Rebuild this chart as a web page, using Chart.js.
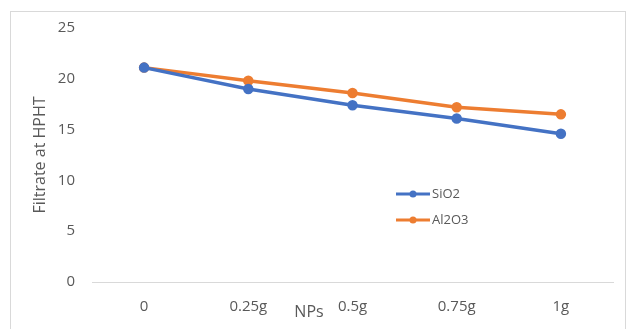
<!DOCTYPE html>
<html>
<head>
<meta charset="utf-8">
<script src="https://cdn.jsdelivr.net/npm/chart.js"></script>
<style>
  html, body { margin: 0; padding: 0; background: #fff; overflow: hidden; }
  #box {
    position: absolute; left: 10px; top: 11px;
    width: 616px; height: 330px;
    border: 1px solid #d9d9d9; box-sizing: border-box;
  }
  #chart { display: block; position: absolute; left: 0; top: -10px; }
</style>
</head>
<body>
<div id="box"><canvas id="chart" width="614" height="328"></canvas></div>
<script>
// data
const categories = ['0', '0.25g', '0.5g', '0.75g', '1g'];
const sio2 = [21.1, 19.0, 17.4, 16.1, 14.6];
const al2o3 = [21.1, 19.8, 18.6, 17.2, 16.5];
const seriesNames = ['SiO2', 'Al2O3'];
const seriesColors = ['#4472C4', '#ED7D31'];

const axisGrey = '#595959';
const fontFamily = '"Open Sans", "Noto Sans", sans-serif';

// legend sits inside the plot, plus the "NPs" title next to the ticks
const innerLegend = {
    id: 'innerLegend',
    afterDraw(chart) {
        const ctx = chart.ctx;
        const area = chart.chartArea;
        const x0 = area.left + 304;
        let y = area.top + 166;
        ctx.save();
        chart.data.datasets.forEach(ds => {
            ctx.strokeStyle = ds.borderColor;
            ctx.lineWidth = 3;
            ctx.beginPath();
            ctx.moveTo(x0, y);
            ctx.lineTo(x0 + 34, y);
            ctx.stroke();
            ctx.fillStyle = ds.borderColor;
            ctx.beginPath();
            ctx.arc(x0 + 17, y, 3.5, 0, Math.PI * 2);
            ctx.fill();
            ctx.fillStyle = axisGrey;
            ctx.font = '13px ' + fontFamily;
            ctx.textBaseline = 'middle';
            ctx.fillText(ds.label, x0 + 36, y);
            y += 26;
        });
        // x axis title
        ctx.font = '16px ' + fontFamily;
        ctx.fillStyle = axisGrey;
        ctx.textAlign = 'center';
        ctx.fillText('NPs', area.left + 217, area.bottom + 30);
        ctx.restore();
    }
};

new Chart(document.getElementById('chart'), {
    type: 'line',
    data: {
        labels: categories,
        datasets: [
            {
                label: seriesNames[0],
                data: sio2,
                borderColor: seriesColors[0],
                backgroundColor: seriesColors[0],
                borderWidth: 3.5,
                pointRadius: 3.5,
                pointHoverRadius: 3.5,
                tension: 0
            },
            {
                label: seriesNames[1],
                data: al2o3,
                borderColor: seriesColors[1],
                backgroundColor: seriesColors[1],
                borderWidth: 3.5,
                pointRadius: 3.5,
                pointHoverRadius: 3.5,
                tension: 0
            }
        ]
    },
    options: {
        responsive: false,
        animation: false,
        layout: { padding: { top: 5, right: 12, bottom: 0, left: 0 } },
        plugins: {
            legend: { display: false },
            tooltip: { enabled: false }
        },
        scales: {
            x: {
                offset: true,
                grid: { display: false, drawTicks: false },
                border: { display: true, color: '#d9d9d9', width: 1 },
                ticks: { color: axisGrey, font: { family: fontFamily, size: 15 }, padding: 16, maxRotation: 0 },
                afterFit: s => { s.height = 48; }
            },
            y: {
                min: 0,
                max: 25,
                ticks: { stepSize: 5, color: axisGrey, font: { family: fontFamily, size: 15 }, padding: 17 },
                grid: { display: false, drawTicks: false },
                border: { display: false },
                title: {
                    display: true,
                    text: 'Filtrate at HPHT',
                    color: axisGrey,
                    font: { family: fontFamily, size: 16 },
                    padding: { top: 20, bottom: 0 }
                },
                afterFit: s => { s.width = 81; }
            }
        }
    },
    plugins: [innerLegend]
});
</script>
</body>
</html>
